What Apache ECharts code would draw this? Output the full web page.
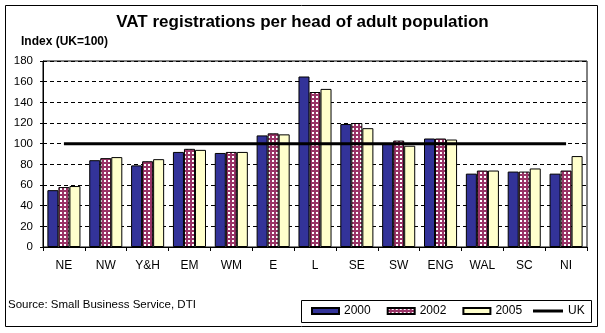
<!DOCTYPE html>
<html>
<head>
<meta charset="utf-8">
<script src="https://cdn.jsdelivr.net/npm/echarts@6/dist/echarts.min.js"></script>
<style>
  html, body { margin: 0; padding: 0; background: #ffffff; }
  #chart { width: 605px; height: 333px; }
</style>
</head>
<body>
<div id="chart"></div>
<script>
// Regions and index values (UK = 100)
const regions = ['NE', 'NW', 'Y&H', 'EM', 'WM', 'E', 'L', 'SE', 'SW', 'ENG', 'WAL', 'SC', 'NI'];
const values2000 = [55, 84, 79, 92, 91, 108, 165, 119, 100, 105, 71, 73, 71];
const values2002 = [58, 86, 83, 95, 92, 110, 150, 120, 103, 105, 74, 73, 74];
const values2005 = [59, 87, 85, 94, 92, 109, 153, 115, 98, 104, 74, 76, 88];
const ukLevel = regions.map(() => 100);
const yTicks = { min: 0, max: 180, step: 20 };

// Dotted tile for the 2002 bars: magenta ground with small white squares
function dotTile() {
  const c = document.createElement('canvas');
  c.width = 4; c.height = 4;
  const g = c.getContext('2d');
  g.fillStyle = '#993366';
  g.fillRect(0, 0, 4, 4);
  g.fillStyle = '#ffffff';
  g.fillRect(0, 0, 2, 2);
  return c;
}

const font = '"Liberation Sans", Arial, sans-serif';
const chart = echarts.init(document.getElementById('chart'), null, { renderer: 'canvas' });

const barBorder = { borderColor: '#000000', borderWidth: 1 };
const legendText = { fontFamily: font, fontSize: 12, color: '#000000' };

chart.setOption({
  animation: false,
  backgroundColor: '#ffffff',
  textStyle: { fontFamily: font },
  title: {
    text: 'VAT registrations per head of adult population',
    left: 'center',
    top: 9,
    textStyle: { fontFamily: font, fontSize: 17, fontWeight: 'bold', color: '#000000' }
  },
  graphic: [
    {
      type: 'rect',
      shape: { x: 5.5, y: 5.5, width: 592, height: 321 },
      style: { fill: 'none', stroke: '#000000', lineWidth: 1 },
      silent: true
    },
    {
      type: 'rect',
      shape: { x: 301.5, y: 300.5, width: 290, height: 22 },
      style: { fill: 'none', stroke: '#000000', lineWidth: 1 },
      silent: true
    },
    {
      type: 'text',
      left: 21, top: 36,
      style: { text: 'Index (UK=100)', font: 'bold 12px ' + font, fill: '#000000' }
    },
    {
      type: 'text',
      left: 8, top: 299,
      style: { text: 'Source: Small Business Service, DTI', font: '11.5px ' + font, fill: '#000000' }
    }
  ],
  legend: [
    {
      left: 311,
      top: 305,
      padding: 0,
      itemGap: 16,
      itemWidth: 27,
      itemHeight: 6,
      textStyle: legendText,
      data: [
        { name: '2000', icon: 'rect' },
        { name: '2002', icon: 'rect' },
        { name: '2005', icon: 'rect' }
      ]
    },
    {
      left: 533,
      top: 305,
      padding: 0,
      itemWidth: 30,
      itemHeight: 3,
      textStyle: legendText,
      data: [{ name: 'UK', icon: 'rect' }]
    }
  ],
  grid: {
    left: 43, right: 18, top: 61, bottom: 86,
    show: true, borderColor: '#000000', borderWidth: 1, backgroundColor: 'transparent'
  },
  xAxis: {
    type: 'category',
    data: regions,
    boundaryGap: true,
    axisLine: { lineStyle: { color: '#000000', width: 1 } },
    axisTick: { show: true, length: 4, lineStyle: { color: '#000000' } },
    axisLabel: { margin: 13, fontFamily: font, fontSize: 12, color: '#000000' }
  },
  yAxis: {
    type: 'value',
    min: yTicks.min,
    max: yTicks.max,
    interval: yTicks.step,
    axisLine: { show: true, lineStyle: { color: '#000000', width: 1 } },
    axisTick: { show: true, length: 3, lineStyle: { color: '#000000' } },
    axisLabel: { margin: 10, fontFamily: font, fontSize: 11.5, color: '#000000' },
    splitLine: { show: true, lineStyle: { color: '#000000', type: [4, 3], width: 1 } }
  },
  series: [
    {
      name: '2000', type: 'bar', data: values2000,
      barGap: '0%', barCategoryGap: '21%',
      itemStyle: Object.assign({ color: '#333399' }, barBorder)
    },
    {
      name: '2002', type: 'bar', data: values2002,
      itemStyle: Object.assign({ color: { image: dotTile(), repeat: 'repeat' } }, barBorder)
    },
    {
      name: '2005', type: 'bar', data: values2005,
      itemStyle: Object.assign({ color: '#FFFFCC' }, barBorder)
    },
    {
      name: 'UK', type: 'line', data: ukLevel,
      symbol: 'none', z: 5,
      lineStyle: { color: '#000000', width: 3 },
      itemStyle: { color: '#000000' }
    }
  ]
});
</script>
</body>
</html>
